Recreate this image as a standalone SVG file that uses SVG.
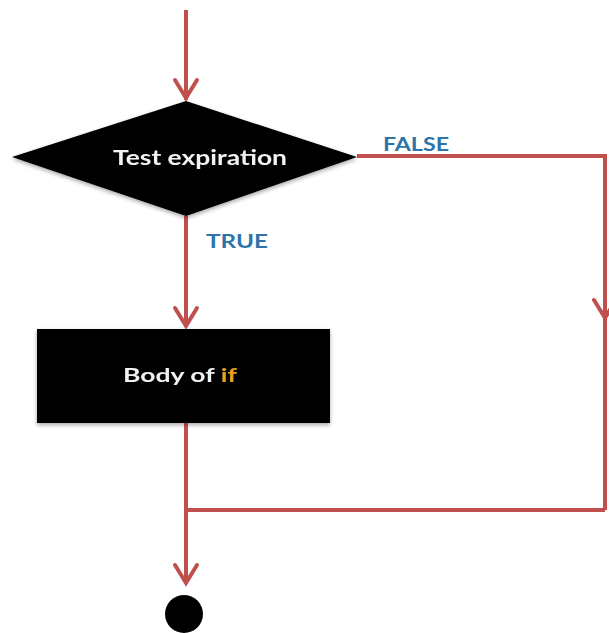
<svg xmlns="http://www.w3.org/2000/svg" width="609" height="633" viewBox="0 0 609 633">
<style>
.ln{fill:none;stroke:#c0504d;stroke-width:4;stroke-linejoin:miter}
.ah{fill:none;stroke:#c0504d;stroke-width:4;stroke-linecap:round;stroke-linejoin:miter}
.node{fill:#050505}
.nt{font-family:Lato,"Open Sans","Liberation Sans",sans-serif;font-weight:bold;fill:#f2f2f2}
.lbl{font-family:Lato,"Open Sans","Liberation Sans",sans-serif;font-weight:bold;fill:#2e74a8;font-size:18px}
</style>
<defs>
<filter id="sh" x="-10%" y="-10%" width="120%" height="130%">
<feGaussianBlur in="SourceAlpha" stdDeviation="2"/>
<feOffset dy="2"/>
<feComponentTransfer><feFuncA type="linear" slope="0.35"/></feComponentTransfer>
<feMerge><feMergeNode/><feMergeNode in="SourceGraphic"/></feMerge>
</filter>
</defs>
<g id="connectors">
<path class="ln" d="M186 10 V100"/>
<path class="ah" d="M175 80 L186 98 L197 80"/>
<path class="ln" d="M357 156 H605 V510"/>
<path class="ah" d="M594 300 L605 318 L616 300"/>
<path class="ln" d="M186 216 V327"/>
<path class="ah" d="M175 308 L186 326 L197 308"/>
<path class="ln" d="M186 423 V583"/>
<path class="ln" d="M186 510 H605"/>
<path class="ah" d="M175 565 L186 583 L197 565"/>
</g>
<g id="decision" filter="url(#sh)">
<polygon class="node" points="186,101 357,157 186,216 12,157"/>
<text class="nt" x="200" y="165" font-size="20" text-anchor="middle" textLength="174" lengthAdjust="spacingAndGlyphs">Test expiration</text>
</g>
<g id="body" filter="url(#sh)">
<rect class="node" x="37" y="329" width="293" height="94"/>
<text class="nt" x="180" y="382" font-size="18" text-anchor="middle" textLength="114" lengthAdjust="spacingAndGlyphs">Body of <tspan fill="#e8a317">if</tspan></text>
</g>
<g id="labels">
<text class="lbl" x="383" y="151" textLength="66" lengthAdjust="spacingAndGlyphs">FALSE</text>
<text class="lbl" x="206" y="248" textLength="62" lengthAdjust="spacingAndGlyphs">TRUE</text>
</g>
<g id="end">
<circle cx="184" cy="614" r="19" fill="#000"/>
</g>
</svg>
